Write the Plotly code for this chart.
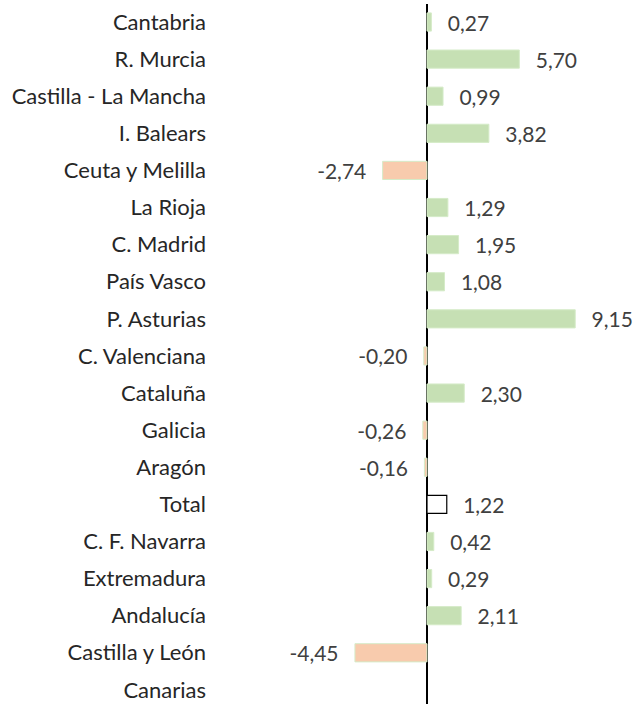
import plotly.graph_objects as go

categories = ["Cantabria", "R. Murcia", "Castilla - La Mancha", "I. Balears", "Ceuta y Melilla",
              "La Rioja", "C. Madrid", "País Vasco", "P. Asturias", "C. Valenciana", "Cataluña",
              "Galicia", "Aragón", "Total", "C. F. Navarra", "Extremadura", "Andalucía",
              "Castilla y León", "Canarias"]
values = [0.27, 5.70, 0.99, 3.82, -2.74, 1.29, 1.95, 1.08, 9.15, -0.20, 2.30,
          -0.26, -0.16, 1.22, 0.42, 0.29, 2.11, -4.45, None]

GREEN = "#c6e0b4"
ORANGE = "#f8cbad"
pad = "\u00a0\u00a0\u2009"
FONT = "Lato, Carlito, sans-serif"

fills, lines, lws, texts = [], [], [], []
for c, v in zip(categories, values):
    if v is None:
        fills.append("rgba(0,0,0,0)"); lines.append("rgba(0,0,0,0)"); lws.append(0); texts.append("")
        continue
    s = f"{v:.2f}".replace(".", ",")
    if c == "Total":
        fills.append("white"); lines.append("black"); lws.append(1.2)
    elif v >= 0:
        fills.append(GREEN); lines.append("#d5ebc8"); lws.append(1)
    else:
        fills.append(ORANGE); lines.append("#d5ebc8"); lws.append(1)
    texts.append(pad + s if v >= 0 else s + pad)

fig = go.Figure(go.Bar(
    y=categories, x=values, orientation="h",
    marker=dict(color=fills, line=dict(color=lines, width=lws)),
    text=texts, textposition="outside", cliponaxis=False, constraintext="none",
    textfont=dict(family=FONT, size=21, color="#404040"),
    hoverinfo="skip",
))

fig.update_layout(
    width=634, height=704,
    margin=dict(l=215, r=0, t=4, b=0),
    plot_bgcolor="white", paper_bgcolor="white",
    bargap=0.51, showlegend=False,
    font=dict(family=FONT, size=22, color="#262626"),
)
fig.update_xaxes(range=[-13.09, 12.78], showgrid=False, showticklabels=False, automargin=False,
                 zeroline=True, zerolinecolor="black", zerolinewidth=2, ticks="")
fig.update_yaxes(range=[18.38, -0.485], showgrid=False, ticks="", ticklabelstandoff=8,
                 automargin=False,
                 tickfont=dict(family=FONT, size=22, color="#262626"))

fig.write_html("out.html", config={"displayModeBar": False},
               post_script="document.body.style.margin='0';document.body.style.overflow='hidden';")
